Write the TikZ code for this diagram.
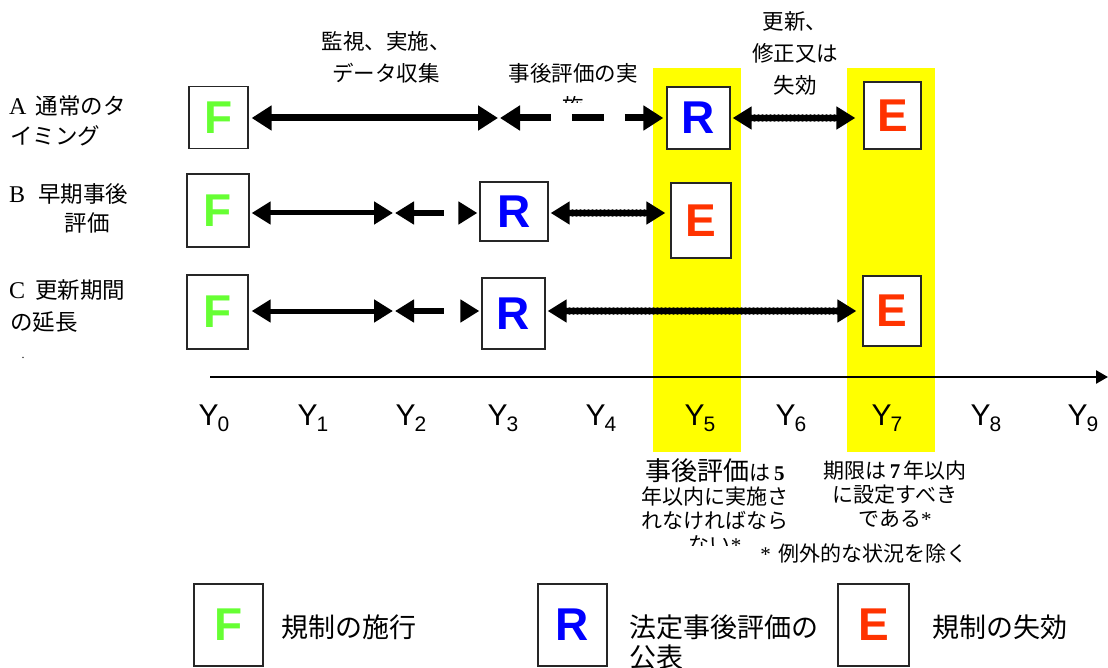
\documentclass[tikz,border=0pt]{standalone}
\usepackage{fontspec}
\setmainfont{Liberation Serif}
\setsansfont{Liberation Sans}
\newfontfamily\jp{Noto Sans CJK JP}
\usetikzlibrary{arrows.meta}
\definecolor{fgreen}{HTML}{66FF33}
\definecolor{rblue}{HTML}{0000FF}
\definecolor{ered}{HTML}{FF3300}
\definecolor{band}{HTML}{FFFF00}
\tikzset{
  box/.style={draw=black!85, line width=1.3pt, fill=white, inner sep=0pt,
    font=\sffamily\bfseries\fontsize{46}{46}\selectfont},
  solidA/.style={line width=7pt, {Triangle[length=20pt,width=24pt]}-{Triangle[length=20pt,width=24pt]}},
  solidB/.style={line width=5pt, {Triangle[length=19pt,width=22pt]}-{Triangle[length=19pt,width=22pt]}},
  dashA/.style={line width=7pt, dash pattern=on 32pt off 21pt, {Triangle[length=20pt,width=24pt]}-{Triangle[length=20pt,width=24pt]}},
  dashB/.style={line width=6pt, dash pattern=on 31pt off 20pt, {Triangle[length=19pt,width=22pt]}-{Triangle[length=19pt,width=22pt]}},
  dotline/.style={line width=7.5pt, line cap=round, dash pattern=on 0pt off 4pt, {Triangle[length=19pt,width=22pt]}-{Triangle[length=19pt,width=22pt]}},
  jtxt/.style={font=\jp\fontsize{21.5}{32}\selectfont, inner sep=0pt},
  rowtxt/.style={font=\jp\fontsize{22.5}{32}\selectfont, inner sep=0pt},
  ylab/.style={font=\sffamily\fontsize{30}{30}\selectfont, inner sep=0pt, anchor=base},
  note/.style={font=\jp\fontsize{21}{24}\selectfont, inner sep=0pt, align=center},
  legtxt/.style={font=\jp\fontsize{27}{30}\selectfont, inner sep=0pt, anchor=west, align=left}
}
\begin{document}
\begin{tikzpicture}[x=1pt,y=-1pt]
\useasboundingbox (0,0) rectangle (1108,668);
% yellow bands
\fill[band] (653,68) rectangle (741,452);
\fill[band] (847,68) rectangle (935,452);

% top labels
\node[jtxt, align=center] (t1) at (386,57) {監視、実施、\\データ収集};
\node[jtxt] (t2) at (573,73) {事後評価の実};
\begin{scope}
  \clip (540,60) rectangle (620,103);
  \node[jtxt] (t2b) at (573,106) {施};
\end{scope}
\node[jtxt, align=center] (t3) at (795,53) {更新、\\修正又は\\失効};

% row labels
\node[rowtxt, anchor=west] (lA1) at (9,106) {{\rmfamily\fontsize{24}{32}\selectfont A}\hspace{9pt}通常のタ};
\node[rowtxt, anchor=west] (lA2) at (10,136) {イミング};
\node[rowtxt, anchor=west] (lB1) at (9,194) {{\rmfamily\fontsize{24}{32}\selectfont B}\hspace{13pt}早期事後};
\node[rowtxt] (lB2) at (87,223) {評価};
\node[rowtxt, anchor=west] (lC1) at (9,290) {{\rmfamily\fontsize{24}{32}\selectfont C}\hspace{10pt}更新期間};
\node[rowtxt, anchor=west] (lC2) at (10,322) {の延長};
\node[font=\rmfamily\fontsize{12}{12}\selectfont, inner sep=0pt] (dot) at (23,358) {.};

% boxes
\node[box, minimum width=59pt, minimum height=62pt, text=fgreen] (FA) at (218.5,117.5) {F};
\node[box, minimum width=63pt, minimum height=62pt, text=rblue] (RA) at (698.5,118) {R};
\node[box, minimum width=57pt, minimum height=67pt, text=ered] (EA) at (892.5,115.5) {E};
\node[box, minimum width=62pt, minimum height=73pt, text=fgreen] (FB) at (218,210.5) {F};
\node[box, minimum width=68pt, minimum height=59pt, text=rblue] (RB) at (514,211.5) {R};
\node[box, minimum width=60pt, minimum height=75pt, text=ered] (EB) at (701,220.5) {E};
\node[box, minimum width=61pt, minimum height=74pt, text=fgreen] (FC) at (217.5,312) {F};
\node[box, minimum width=63pt, minimum height=71pt, text=rblue] (RC) at (513.5,313.5) {R};
\node[box, minimum width=58pt, minimum height=70pt, text=ered] (EC) at (892,311) {E};

% connector coordinates
\coordinate (mA1) at (498,118);
\coordinate (mA2) at (500,118);
\coordinate (mB1) at (393,213);
\coordinate (mB2) at (395,213);
\coordinate (mC1) at (393,311);
\coordinate (mC2) at (395,311);

% row A
\draw[solidA, shorten <=3pt] (FA.east |- mA1) -- (mA1);
\draw[dashA, shorten >=3pt] (mA2) -- (RA.west |- mA2);
\draw[dotline, shorten <=2pt, shorten >=8pt] (RA.east |- mA2) -- (EA.west |- mA2);
% row B
\draw[solidB, shorten <=2pt] (FB.east |- mB1) -- (mB1);
\draw[dashB, shorten >=2pt] (mB2) -- (RB.west |- mB2);
\draw[dotline, shorten <=2pt, shorten >=5pt] (RB.east |- mB2) -- (EB.west |- mB2);
% row C
\draw[solidB, shorten <=3pt] (FC.east |- mC1) -- (mC1);
\draw[dashB, shorten >=2pt] (mC2) -- (RC.west |- mC2);
\draw[dotline, shorten <=2pt, shorten >=6pt] (RC.east |- mC2) -- (EC.west |- mC2);

% time axis
\coordinate (axL) at (210,377);
\coordinate (axR) at (1108,377);
\draw[line width=2.5pt, -{Triangle[length=12pt,width=13pt]}] (axL) -- (axR);
\foreach \x [count=\i from 0] in {214,313,411,503,601,700,791,887,986,1083}
  \node[ylab] (Y\i) at (\x,425) {Y\kern-1pt\raisebox{-6pt}{\fontsize{21}{21}\selectfont\i}};

% notes under the bands
\begin{scope}
  \clip (600,455) rectangle (800,545);
  \node[note] (n5) at (715,494) {{\fontsize{26}{24}\selectfont 事後評価}は\,{\rmfamily\bfseries 5}\\年以内に実施さ\\れなければなら};
  \node[note] (n5b) at (715,545) {ない{\rmfamily *}};
\end{scope}
\node[note] (n7) at (895,494) {期限は\,{\rmfamily\bfseries 7}\,年以内\\に設定すべき\\である{\rmfamily *}};
\node[note] (nx) at (864,553) {{\rmfamily *}\hspace{8pt}例外的な状況を除く};

% legend
\node[box, minimum width=69pt, minimum height=82pt, text=fgreen] (LF) at (228.5,625) {F};
\node[legtxt] (LFt) at (281,627) {規制の施行};
\node[box, minimum width=69pt, minimum height=82pt, text=rblue] (LR) at (572.5,625) {R};
\node[legtxt] (LRt) at (629,642) {法定事後評価の\\公表};
\node[box, minimum width=71pt, minimum height=82pt, text=ered] (LE) at (873.5,625) {E};
\node[legtxt] (LEt) at (932,627) {規制の失効};
\end{tikzpicture}
\end{document}
